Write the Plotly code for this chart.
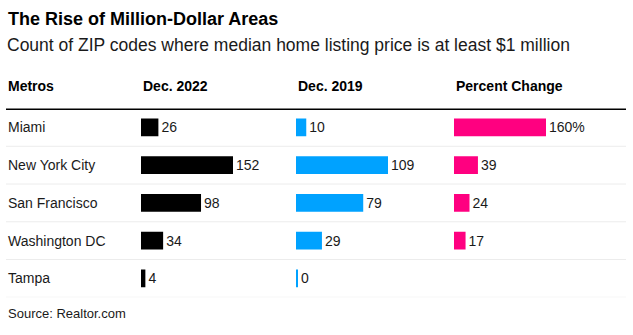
import plotly.graph_objects as go

metros = ["Miami", "New York City", "San Francisco", "Washington DC", "Tampa"]
dec_2022 = [26, 152, 98, 34, 4]
dec_2019 = [10, 109, 79, 29, 0]
pct_change = [160, 39, 24, 17, None]
pct_labels = ["160%", "39", "24", "17", ""]
headers = ["Metros", "Dec. 2022", "Dec. 2019", "Percent Change"]

TITLE = "The Rise of Million-Dollar Areas"
SUBTITLE = "Count of ZIP codes where median home listing price is at least $1 million"
SOURCE = "Source: Realtor.com"

W, H = 633, 335
FONT = "Liberation Sans, Arial, sans-serif"
TXT = "#1a1a1a"

col_start_px = [141, 296, 454]
BAR_PX = 90   # pixel length of the largest bar in a column
MIN_PX = 2    # minimum stub so zero values stay visible
DOM_PX = 92

row_top_px, row_bot_px = 108.5, 297.3

fig = go.Figure()
series = [
    (dec_2022, [str(v) for v in dec_2022], "#000000"),
    (dec_2019, [str(v) for v in dec_2019], "#00a2ff"),
    (pct_change, pct_labels, "#ff0080"),
]
for i, (vals, labels, color) in enumerate(series):
    vmax = max(v for v in vals if v is not None)
    s = BAR_PX / vmax
    off = MIN_PX / s
    ax = "" if i == 0 else str(i + 1)
    # bar spans from -off (stub) up to the value itself
    fig.add_trace(go.Bar(
        x=[None if v is None else v + off for v in vals], y=metros,
        orientation="h", base=-off,
        marker=dict(color=color, line=dict(width=0)),
        text=labels, textposition="outside", cliponaxis=False,
        textfont=dict(family=FONT, size=14, color=TXT),
        xaxis="x" + ax, yaxis="y", hoverinfo="skip", showlegend=False,
    ))
    x0 = col_start_px[i] / W
    fig.layout["xaxis" + ax] = dict(
        domain=[x0, (col_start_px[i] + DOM_PX) / W],
        range=[-off, (DOM_PX - MIN_PX) / s],
        visible=False, fixedrange=True, anchor="y",
    )

fig.update_layout(
    width=W, height=H, margin=dict(l=0, r=0, t=0, b=0),
    paper_bgcolor="white", plot_bgcolor="rgba(0,0,0,0)",
    bargap=0.53,
    yaxis=dict(domain=[1 - row_bot_px / H, 1 - row_top_px / H],
               range=[len(metros) - 0.5, -0.5], visible=False, fixedrange=True),
    font=dict(family=FONT, color=TXT),
)

ann = []
ann.append(dict(text="<b>" + TITLE + "</b>", x=6 / W, y=1 - 19 / H, xref="paper", yref="paper",
                xanchor="left", yanchor="middle", showarrow=False,
                font=dict(family=FONT, size=18, color="#000")))
ann.append(dict(text=SUBTITLE, x=5 / W, y=1 - 45 / H, xref="paper", yref="paper",
                xanchor="left", yanchor="middle", showarrow=False,
                font=dict(family=FONT, size=17.5, color=TXT)))
hx = [6] + col_start_px
for h, x in zip(headers, hx):
    ann.append(dict(text="<b>" + h + "</b>", x=x / W, y=1 - 86 / H, xref="paper", yref="paper",
                    xanchor="left", yanchor="middle", showarrow=False,
                    font=dict(family=FONT, size=14, color="#000")))
for m in metros:
    ann.append(dict(text=m, x=6 / W, y=m, xref="paper", yref="y",
                    xanchor="left", yanchor="middle", showarrow=False,
                    font=dict(family=FONT, size=14, color=TXT)))
ann.append(dict(text=SOURCE, x=6 / W, y=1 - 313 / H, xref="paper", yref="paper",
                xanchor="left", yanchor="middle", showarrow=False,
                font=dict(family=FONT, size=13, color=TXT)))
fig.update_layout(annotations=ann)

shapes = [dict(type="line", xref="paper", yref="y", x0=6 / W, x1=626 / W,
               y0=-0.5, y1=-0.5, line=dict(color="#000", width=3))]
for k in range(len(metros)):
    shapes.append(dict(type="line", xref="paper", yref="y", x0=6 / W, x1=626 / W,
                       y0=k + 0.5, y1=k + 0.5, line=dict(color="#ececec", width=1)))
fig.update_layout(shapes=shapes)

fig.write_html("out.html")
